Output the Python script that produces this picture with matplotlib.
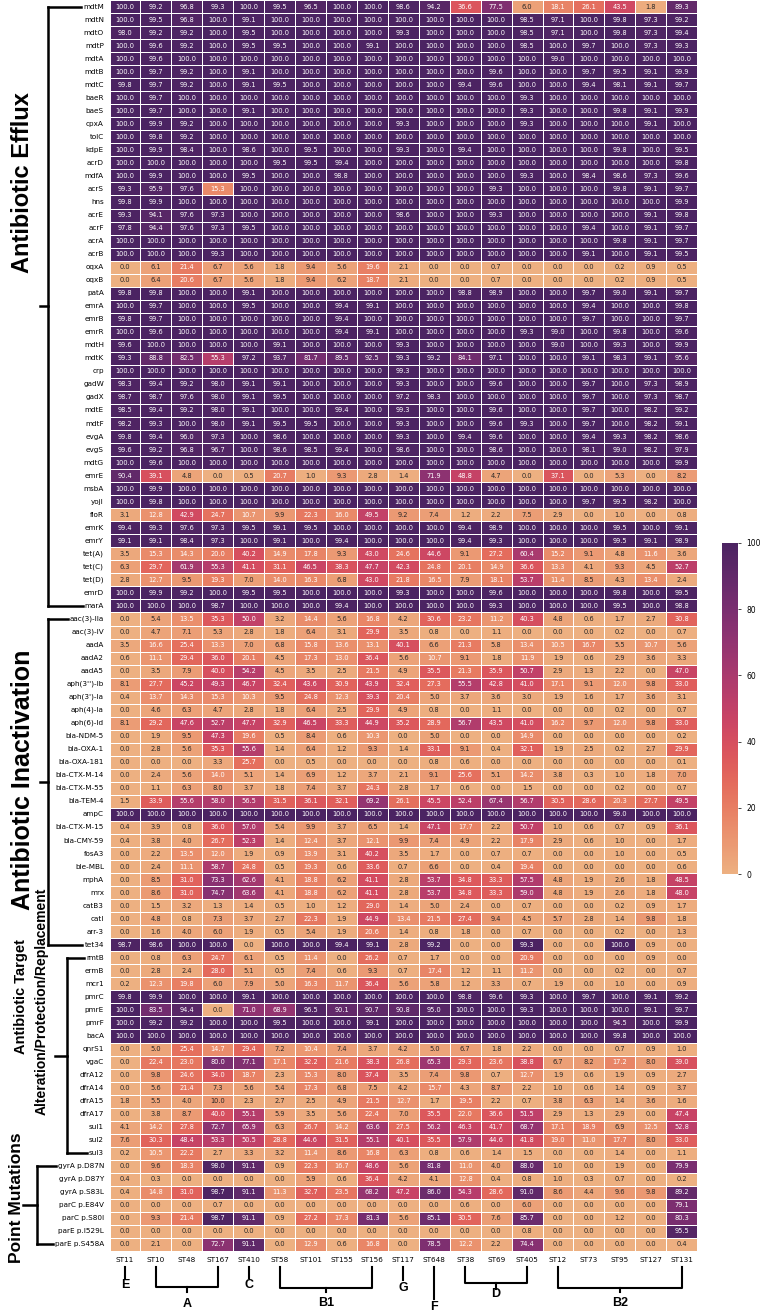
import numpy as np
import matplotlib
matplotlib.use("Agg")
import matplotlib.pyplot as plt
import matplotlib.transforms as mtransforms
from matplotlib import font_manager
import seaborn as sns

# sequence types (columns) and their clade groups
st_types = ["ST11", "ST10", "ST48", "ST167", "ST410", "ST58", "ST101", "ST155", "ST156", "ST117",
            "ST648", "ST38", "ST69", "ST405", "ST12", "ST73", "ST95", "ST127", "ST131"]
clade_names = ["E", "A", "C", "B1", "G", "F", "D", "B2"]
clade_cols = [[0], [1, 3], [4], [5, 8], [9], [10], [11, 13], [14, 18]]

efflux_genes = ["mdtM", "mdtN", "mdtO", "mdtP", "mdtA", "mdtB", "mdtC", "baeR", "baeS", "cpxA",
                "tolC", "kdpE", "acrD", "mdfA", "acrS", "hns", "acrE", "acrF", "acrA", "acrB",
                "oqxA", "oqxB", "patA", "emrA", "emrB", "emrR", "mdtH", "mdtK", "crp", "gadW",
                "gadX", "mdtE", "mdtF", "evgA", "evgS", "mdtG", "emrE", "msbA", "yojI", "floR",
                "emrK", "emrY", "tet(A)", "tet(C)", "tet(D)", "emrD", "marA"]
efflux_values = [
    [100.0, 99.2, 96.8, 99.3, 100.0, 99.5, 96.5, 100.0, 100.0, 98.6, 94.2, 36.6, 77.5, 6.0, 18.1, 26.1, 43.5, 1.8, 89.3],
    [100.0, 99.5, 96.8, 100.0, 99.1, 100.0, 100.0, 100.0, 100.0, 100.0, 100.0, 100.0, 100.0, 98.5, 97.1, 100.0, 99.8, 97.3, 99.2],
    [98.0, 99.2, 99.2, 100.0, 99.5, 100.0, 100.0, 100.0, 100.0, 99.3, 100.0, 100.0, 100.0, 98.5, 97.1, 100.0, 99.8, 97.3, 99.4],
    [100.0, 99.6, 99.2, 100.0, 99.5, 99.5, 100.0, 100.0, 99.1, 100.0, 100.0, 100.0, 100.0, 98.5, 100.0, 99.7, 100.0, 97.3, 99.3],
    [100.0, 99.6, 100.0, 100.0, 100.0, 100.0, 100.0, 100.0, 100.0, 100.0, 100.0, 100.0, 100.0, 100.0, 99.0, 100.0, 100.0, 100.0, 100.0],
    [100.0, 99.7, 99.2, 100.0, 99.1, 100.0, 100.0, 100.0, 100.0, 100.0, 100.0, 100.0, 99.6, 100.0, 100.0, 99.7, 99.5, 99.1, 99.9],
    [99.8, 99.7, 99.2, 100.0, 99.1, 99.5, 100.0, 100.0, 100.0, 100.0, 100.0, 99.4, 99.6, 100.0, 100.0, 99.4, 98.1, 99.1, 99.7],
    [100.0, 99.7, 100.0, 100.0, 100.0, 100.0, 100.0, 100.0, 100.0, 100.0, 100.0, 100.0, 100.0, 99.3, 100.0, 100.0, 100.0, 100.0, 100.0],
    [100.0, 99.7, 100.0, 100.0, 99.1, 100.0, 100.0, 100.0, 100.0, 100.0, 100.0, 100.0, 100.0, 99.3, 100.0, 100.0, 99.8, 99.1, 99.9],
    [100.0, 99.9, 99.2, 100.0, 100.0, 100.0, 100.0, 100.0, 100.0, 99.3, 100.0, 100.0, 100.0, 99.3, 100.0, 100.0, 100.0, 99.1, 100.0],
    [100.0, 99.8, 99.2, 100.0, 100.0, 100.0, 100.0, 100.0, 100.0, 100.0, 100.0, 100.0, 100.0, 100.0, 100.0, 100.0, 100.0, 100.0, 100.0],
    [100.0, 99.9, 98.4, 100.0, 98.6, 100.0, 99.5, 100.0, 100.0, 99.3, 100.0, 99.4, 100.0, 100.0, 100.0, 100.0, 99.8, 100.0, 99.5],
    [100.0, 100.0, 100.0, 100.0, 100.0, 99.5, 99.5, 99.4, 100.0, 100.0, 100.0, 100.0, 100.0, 100.0, 100.0, 100.0, 100.0, 100.0, 99.8],
    [100.0, 99.9, 100.0, 100.0, 99.5, 100.0, 100.0, 98.8, 100.0, 100.0, 100.0, 100.0, 100.0, 99.3, 100.0, 98.4, 98.6, 97.3, 99.6],
    [99.3, 95.9, 97.6, 15.3, 100.0, 100.0, 100.0, 100.0, 100.0, 100.0, 100.0, 100.0, 99.3, 100.0, 100.0, 100.0, 99.8, 99.1, 99.7],
    [99.8, 99.9, 100.0, 100.0, 100.0, 100.0, 100.0, 100.0, 100.0, 100.0, 100.0, 100.0, 100.0, 100.0, 100.0, 100.0, 100.0, 100.0, 99.9],
    [99.3, 94.1, 97.6, 97.3, 100.0, 100.0, 100.0, 100.0, 100.0, 98.6, 100.0, 100.0, 99.3, 100.0, 100.0, 100.0, 100.0, 99.1, 99.8],
    [97.8, 94.4, 97.6, 97.3, 99.5, 100.0, 100.0, 100.0, 100.0, 100.0, 100.0, 100.0, 100.0, 100.0, 100.0, 99.4, 100.0, 99.1, 99.7],
    [100.0, 100.0, 100.0, 100.0, 100.0, 100.0, 100.0, 100.0, 100.0, 100.0, 100.0, 100.0, 100.0, 100.0, 100.0, 100.0, 99.8, 99.1, 99.7],
    [100.0, 100.0, 100.0, 99.3, 100.0, 100.0, 100.0, 100.0, 100.0, 100.0, 100.0, 100.0, 100.0, 100.0, 100.0, 99.1, 100.0, 99.1, 99.5],
    [0.0, 6.1, 21.4, 6.7, 5.6, 1.8, 9.4, 5.6, 19.6, 2.1, 0.0, 0.0, 0.7, 0.0, 0.0, 0.0, 0.2, 0.9, 0.5],
    [0.0, 6.4, 20.6, 6.7, 5.6, 1.8, 9.4, 6.2, 18.7, 2.1, 0.0, 0.0, 0.7, 0.0, 0.0, 0.0, 0.2, 0.9, 0.5],
    [99.8, 99.8, 100.0, 100.0, 99.1, 100.0, 100.0, 100.0, 100.0, 100.0, 100.0, 98.8, 98.9, 100.0, 100.0, 99.7, 99.0, 99.1, 99.7],
    [100.0, 99.7, 100.0, 100.0, 99.5, 100.0, 100.0, 99.4, 99.1, 100.0, 100.0, 100.0, 100.0, 100.0, 100.0, 99.4, 100.0, 100.0, 99.8],
    [99.8, 99.7, 100.0, 100.0, 100.0, 100.0, 100.0, 99.4, 100.0, 100.0, 100.0, 100.0, 100.0, 100.0, 100.0, 99.7, 100.0, 100.0, 99.7],
    [100.0, 99.6, 100.0, 100.0, 100.0, 100.0, 100.0, 99.4, 99.1, 100.0, 100.0, 100.0, 100.0, 99.3, 99.0, 100.0, 99.8, 100.0, 99.6],
    [99.6, 100.0, 100.0, 100.0, 100.0, 99.1, 100.0, 100.0, 100.0, 99.3, 100.0, 100.0, 100.0, 100.0, 99.0, 100.0, 99.3, 100.0, 99.9],
    [99.3, 88.8, 82.5, 55.3, 97.2, 93.7, 81.7, 89.5, 92.5, 99.3, 99.2, 84.1, 97.1, 100.0, 100.0, 99.1, 98.3, 99.1, 95.6],
    [100.0, 100.0, 100.0, 100.0, 100.0, 100.0, 100.0, 100.0, 100.0, 99.3, 100.0, 100.0, 100.0, 100.0, 100.0, 100.0, 100.0, 100.0, 100.0],
    [98.3, 99.4, 99.2, 98.0, 99.1, 99.1, 100.0, 100.0, 100.0, 99.3, 100.0, 100.0, 99.6, 100.0, 100.0, 99.7, 100.0, 97.3, 98.9],
    [98.7, 98.7, 97.6, 98.0, 99.1, 99.5, 100.0, 100.0, 100.0, 97.2, 98.3, 100.0, 100.0, 100.0, 100.0, 99.7, 100.0, 97.3, 98.7],
    [98.5, 99.4, 99.2, 98.0, 99.1, 100.0, 100.0, 99.4, 100.0, 99.3, 100.0, 100.0, 99.6, 100.0, 100.0, 99.7, 100.0, 98.2, 99.2],
    [98.2, 99.3, 100.0, 98.0, 99.1, 99.5, 99.5, 100.0, 100.0, 99.3, 100.0, 100.0, 99.6, 99.3, 100.0, 99.7, 100.0, 98.2, 99.1],
    [99.8, 99.4, 96.0, 97.3, 100.0, 98.6, 100.0, 100.0, 100.0, 99.3, 100.0, 99.4, 99.6, 100.0, 100.0, 99.4, 99.3, 98.2, 98.6],
    [99.6, 99.2, 96.8, 96.7, 100.0, 98.6, 98.5, 99.4, 100.0, 98.6, 100.0, 100.0, 98.6, 100.0, 100.0, 98.1, 99.0, 98.2, 97.9],
    [100.0, 99.6, 100.0, 100.0, 100.0, 100.0, 100.0, 100.0, 100.0, 100.0, 100.0, 100.0, 100.0, 100.0, 100.0, 100.0, 100.0, 100.0, 99.9],
    [90.4, 39.1, 4.8, 0.0, 0.5, 20.7, 1.0, 9.3, 2.8, 1.4, 71.9, 48.8, 4.7, 0.0, 37.1, 0.0, 5.3, 0.0, 8.2],
    [100.0, 99.9, 100.0, 100.0, 100.0, 100.0, 100.0, 100.0, 100.0, 100.0, 100.0, 100.0, 100.0, 100.0, 100.0, 100.0, 100.0, 100.0, 100.0],
    [100.0, 99.8, 100.0, 100.0, 100.0, 100.0, 100.0, 100.0, 100.0, 100.0, 100.0, 100.0, 100.0, 100.0, 100.0, 99.7, 99.5, 98.2, 100.0],
    [3.1, 12.8, 42.9, 24.7, 10.7, 9.9, 22.3, 16.0, 49.5, 9.2, 7.4, 1.2, 2.2, 7.5, 2.9, 0.0, 1.0, 0.0, 0.8],
    [99.4, 99.3, 97.6, 97.3, 99.5, 99.1, 99.5, 100.0, 100.0, 100.0, 100.0, 99.4, 98.9, 100.0, 100.0, 100.0, 99.5, 100.0, 99.1],
    [99.1, 99.1, 98.4, 97.3, 100.0, 99.1, 100.0, 99.4, 100.0, 100.0, 100.0, 99.4, 99.3, 100.0, 100.0, 100.0, 99.5, 99.1, 98.9],
    [3.5, 15.3, 14.3, 20.0, 40.2, 14.9, 17.8, 9.3, 43.0, 24.6, 44.6, 9.1, 27.2, 60.4, 15.2, 9.1, 4.8, 11.6, 3.6],
    [6.3, 29.7, 61.9, 55.3, 41.1, 31.1, 46.5, 38.3, 47.7, 42.3, 24.8, 20.1, 14.9, 36.6, 13.3, 4.1, 9.3, 4.5, 52.7],
    [2.8, 12.7, 9.5, 19.3, 7.0, 14.0, 16.3, 6.8, 43.0, 21.8, 16.5, 7.9, 18.1, 53.7, 11.4, 8.5, 4.3, 13.4, 2.4],
    [100.0, 99.9, 99.2, 100.0, 99.5, 99.5, 100.0, 100.0, 100.0, 99.3, 100.0, 100.0, 99.6, 100.0, 100.0, 100.0, 99.8, 100.0, 99.5],
    [100.0, 100.0, 100.0, 98.7, 100.0, 100.0, 100.0, 99.4, 100.0, 100.0, 100.0, 100.0, 99.3, 100.0, 100.0, 100.0, 99.5, 100.0, 98.8],
]

inactivation_genes = ["aac(3)-IIa", "aac(3)-IV", "aadA", "aadA2", "aadA5", "aph(3'')-Ib", "aph(3')-Ia",
                      "aph(4)-Ia", "aph(6)-Id", "bla-NDM-5", "bla-OXA-1", "bla-OXA-181", "bla-CTX-M-14",
                      "bla-CTX-M-55", "bla-TEM-4", "ampC", "bla-CTX-M-15", "bla-CMY-59", "fosA3", "ble-MBL",
                      "mphA", "mrx", "catB3", "catI", "arr-3", "tet34"]
inactivation_values = [
    [0.0, 5.4, 13.5, 35.3, 50.0, 3.2, 14.4, 5.6, 16.8, 4.2, 30.6, 23.2, 11.2, 40.3, 4.8, 0.6, 1.7, 2.7, 30.8],
    [0.0, 4.7, 7.1, 5.3, 2.8, 1.8, 6.4, 3.1, 29.9, 3.5, 0.8, 0.0, 1.1, 0.0, 0.0, 0.0, 0.2, 0.0, 0.7],
    [3.5, 16.6, 25.4, 13.3, 7.0, 6.8, 15.8, 13.6, 13.1, 40.1, 6.6, 21.3, 5.8, 13.4, 10.5, 16.7, 5.5, 10.7, 5.6],
    [0.6, 11.1, 29.4, 36.0, 20.1, 4.5, 17.3, 13.0, 36.4, 5.6, 10.7, 9.1, 1.8, 11.9, 1.9, 0.6, 2.9, 3.6, 3.3],
    [0.0, 3.5, 7.9, 40.0, 54.2, 4.5, 3.5, 2.5, 21.5, 4.9, 35.5, 21.3, 35.9, 50.7, 2.9, 1.3, 2.2, 0.0, 47.0],
    [8.1, 27.7, 45.2, 49.3, 46.7, 32.4, 43.6, 30.9, 43.9, 32.4, 27.3, 55.5, 42.8, 41.0, 17.1, 9.1, 12.0, 9.8, 33.0],
    [0.4, 13.7, 14.3, 15.3, 10.3, 9.5, 24.8, 12.3, 39.3, 20.4, 5.0, 3.7, 3.6, 3.0, 1.9, 1.6, 1.7, 3.6, 3.1],
    [0.0, 4.6, 6.3, 4.7, 2.8, 1.8, 6.4, 2.5, 29.9, 4.9, 0.8, 0.0, 1.1, 0.0, 0.0, 0.0, 0.2, 0.0, 0.7],
    [8.1, 29.2, 47.6, 52.7, 47.7, 32.9, 46.5, 33.3, 44.9, 35.2, 28.9, 56.7, 43.5, 41.0, 16.2, 9.7, 12.0, 9.8, 33.0],
    [0.0, 1.9, 9.5, 47.3, 19.6, 0.5, 8.4, 0.6, 10.3, 0.0, 5.0, 0.0, 0.0, 14.9, 0.0, 0.0, 0.0, 0.0, 0.2],
    [0.0, 2.8, 5.6, 35.3, 55.6, 1.4, 6.4, 1.2, 9.3, 1.4, 33.1, 9.1, 0.4, 32.1, 1.9, 2.5, 0.2, 2.7, 29.9],
    [0.0, 0.0, 0.0, 3.3, 25.7, 0.0, 0.5, 0.0, 0.0, 0.0, 0.8, 0.6, 0.0, 0.0, 0.0, 0.0, 0.0, 0.0, 0.1],
    [0.0, 2.4, 5.6, 14.0, 5.1, 1.4, 6.9, 1.2, 3.7, 2.1, 9.1, 25.6, 5.1, 14.2, 3.8, 0.3, 1.0, 1.8, 7.0],
    [0.0, 1.1, 6.3, 8.0, 3.7, 1.8, 7.4, 3.7, 24.3, 2.8, 1.7, 0.6, 0.0, 1.5, 0.0, 0.0, 0.2, 0.0, 0.7],
    [1.5, 33.9, 55.6, 58.0, 56.5, 31.5, 36.1, 32.1, 69.2, 26.1, 45.5, 52.4, 67.4, 56.7, 30.5, 28.6, 20.3, 27.7, 49.5],
    [100.0, 100.0, 100.0, 100.0, 100.0, 100.0, 100.0, 100.0, 100.0, 100.0, 100.0, 100.0, 100.0, 100.0, 100.0, 100.0, 99.0, 100.0, 100.0],
    [0.4, 3.9, 0.8, 36.0, 57.0, 5.4, 9.9, 3.7, 6.5, 1.4, 47.1, 17.7, 2.2, 50.7, 1.0, 0.6, 0.7, 0.9, 36.1],
    [0.4, 3.8, 4.0, 26.7, 52.3, 1.4, 12.4, 3.7, 12.1, 9.9, 7.4, 4.9, 2.2, 17.9, 2.9, 0.6, 1.0, 0.0, 1.7],
    [0.0, 2.2, 13.5, 12.0, 1.9, 0.9, 13.9, 3.1, 40.2, 3.5, 1.7, 0.0, 0.7, 0.7, 0.0, 0.0, 1.0, 0.0, 0.5],
    [0.0, 2.4, 11.1, 58.7, 24.8, 0.5, 19.3, 0.6, 33.6, 0.7, 6.6, 0.0, 0.4, 19.4, 0.0, 0.0, 0.0, 0.0, 0.6],
    [0.0, 8.5, 31.0, 73.3, 62.6, 4.1, 18.8, 6.2, 41.1, 2.8, 53.7, 34.8, 33.3, 57.5, 4.8, 1.9, 2.6, 1.8, 48.5],
    [0.0, 8.6, 31.0, 74.7, 63.6, 4.1, 18.8, 6.2, 41.1, 2.8, 53.7, 34.8, 33.3, 59.0, 4.8, 1.9, 2.6, 1.8, 48.0],
    [0.0, 1.5, 3.2, 1.3, 1.4, 0.5, 1.0, 1.2, 29.0, 1.4, 5.0, 2.4, 0.0, 0.7, 0.0, 0.0, 0.2, 0.9, 1.7],
    [0.0, 4.8, 0.8, 7.3, 3.7, 2.7, 22.3, 1.9, 44.9, 13.4, 21.5, 27.4, 9.4, 4.5, 5.7, 2.8, 1.4, 9.8, 1.8],
    [0.0, 1.6, 4.0, 6.0, 1.9, 0.5, 5.4, 1.9, 20.6, 1.4, 0.8, 1.8, 0.0, 0.7, 0.0, 0.0, 0.2, 0.0, 1.3],
    [98.7, 98.6, 100.0, 100.0, 0.0, 100.0, 100.0, 99.4, 99.1, 2.8, 99.2, 0.0, 0.0, 99.3, 0.0, 0.0, 100.0, 0.9, 0.0],
]

target_genes = ["rmtB", "ermB", "mcr1", "pmrC", "pmrE", "pmrF", "bacA", "qnrS1", "vgaC", "dfrA12",
                "dfrA14", "dfrA15", "dfrA17", "sul1", "sul2", "sul3"]
target_values = [
    [0.0, 0.8, 6.3, 24.7, 6.1, 0.5, 11.4, 0.0, 26.2, 0.7, 1.7, 0.0, 0.0, 20.9, 0.0, 0.0, 0.0, 0.9, 0.0],
    [0.0, 2.8, 2.4, 28.0, 5.1, 0.5, 7.4, 0.6, 9.3, 0.7, 17.4, 1.2, 1.1, 11.2, 0.0, 0.0, 0.2, 0.0, 0.7],
    [0.2, 12.3, 19.8, 6.0, 7.9, 5.0, 16.3, 11.7, 36.4, 5.6, 5.8, 1.2, 3.3, 0.7, 1.9, 0.0, 1.0, 0.0, 0.9],
    [99.8, 99.9, 100.0, 100.0, 99.1, 100.0, 100.0, 100.0, 100.0, 100.0, 100.0, 98.8, 99.6, 99.3, 100.0, 99.7, 100.0, 99.1, 99.2],
    [100.0, 83.5, 94.4, 0.0, 71.0, 68.9, 96.5, 90.1, 90.7, 90.8, 95.0, 100.0, 100.0, 99.3, 100.0, 100.0, 100.0, 99.1, 99.7],
    [100.0, 99.2, 99.2, 100.0, 100.0, 99.5, 100.0, 100.0, 99.1, 100.0, 100.0, 100.0, 100.0, 100.0, 100.0, 100.0, 94.5, 100.0, 99.9],
    [100.0, 100.0, 100.0, 100.0, 100.0, 100.0, 100.0, 100.0, 100.0, 100.0, 100.0, 100.0, 100.0, 100.0, 100.0, 100.0, 99.8, 100.0, 100.0],
    [0.0, 5.0, 25.4, 14.7, 29.4, 7.2, 10.4, 7.4, 3.7, 4.2, 5.0, 6.7, 1.8, 2.2, 0.0, 0.0, 0.7, 0.9, 1.0],
    [0.0, 22.4, 23.0, 80.0, 77.1, 17.1, 32.2, 21.6, 38.3, 26.8, 65.3, 29.3, 23.6, 38.8, 6.7, 8.2, 17.2, 8.0, 39.0],
    [0.0, 9.8, 24.6, 34.0, 18.7, 2.3, 15.3, 8.0, 37.4, 3.5, 7.4, 9.8, 0.7, 12.7, 1.9, 0.6, 1.9, 0.9, 2.7],
    [0.0, 5.6, 21.4, 7.3, 5.6, 5.4, 17.3, 6.8, 7.5, 4.2, 15.7, 4.3, 8.7, 2.2, 1.0, 0.6, 1.4, 0.9, 3.7],
    [1.8, 5.5, 4.0, 10.0, 2.3, 2.7, 2.5, 4.9, 21.5, 12.7, 1.7, 19.5, 2.2, 0.7, 3.8, 6.3, 1.4, 3.6, 1.6],
    [0.0, 3.8, 8.7, 40.0, 55.1, 5.9, 3.5, 5.6, 22.4, 7.0, 35.5, 22.0, 36.6, 51.5, 2.9, 1.3, 2.9, 0.0, 47.4],
    [4.1, 14.2, 27.8, 72.7, 65.9, 6.3, 26.7, 14.2, 63.6, 27.5, 56.2, 46.3, 41.7, 68.7, 17.1, 18.9, 6.9, 12.5, 52.8],
    [7.6, 30.3, 48.4, 53.3, 50.5, 28.8, 44.6, 31.5, 55.1, 40.1, 35.5, 57.9, 44.6, 41.8, 19.0, 11.0, 17.7, 8.0, 33.0],
    [0.2, 10.5, 22.2, 2.7, 3.3, 3.2, 11.4, 8.6, 16.8, 6.3, 0.8, 0.6, 1.4, 1.5, 0.0, 0.0, 1.4, 0.0, 1.1],
]

mutation_genes = ["gyrA p.D87N", "gyrA p.D87Y", "gyrA p.S83L", "parC p.E84V", "parC p.S80I",
                  "parE p.I529L", "parE p.S458A"]
mutation_values = [
    [0.0, 9.6, 18.3, 98.0, 91.1, 0.9, 22.3, 16.7, 48.6, 5.6, 81.8, 11.0, 4.0, 88.0, 1.0, 0.0, 1.9, 0.0, 79.9],
    [0.4, 0.3, 0.0, 0.0, 0.0, 0.0, 5.9, 0.6, 36.4, 4.2, 4.1, 12.8, 0.4, 0.8, 1.0, 0.3, 0.7, 0.0, 0.2],
    [0.4, 14.8, 31.0, 98.7, 91.1, 11.3, 32.7, 23.5, 68.2, 47.2, 86.0, 54.3, 28.6, 91.0, 8.6, 4.4, 9.6, 9.8, 89.2],
    [0.0, 0.0, 0.0, 0.7, 0.0, 0.0, 0.0, 0.0, 0.0, 0.0, 0.0, 0.6, 0.0, 6.0, 0.0, 0.0, 0.0, 0.0, 79.1],
    [0.0, 9.3, 21.4, 98.7, 91.1, 0.9, 27.2, 17.3, 81.3, 5.6, 85.1, 30.5, 7.6, 85.7, 0.0, 0.0, 1.2, 0.0, 80.3],
    [0.0, 0.0, 0.0, 0.0, 0.0, 0.0, 0.0, 0.0, 0.0, 0.0, 0.0, 0.0, 0.0, 0.8, 0.0, 0.0, 0.0, 0.0, 95.5],
    [0.0, 2.1, 0.0, 72.7, 91.1, 0.0, 12.9, 0.6, 16.8, 0.0, 78.5, 12.2, 2.2, 74.4, 0.0, 0.0, 0.0, 0.0, 0.4],
]

genes = efflux_genes + inactivation_genes + target_genes + mutation_genes
values = np.array(efflux_values + inactivation_values + target_values + mutation_values)

# the group labels look like a narrow bold face; use it when it is there
installed = {f.name for f in font_manager.fontManager.ttflist}
if "Liberation Sans Narrow" in installed:
    label_font = ["Liberation Sans Narrow", "DejaVu Sans"]
    sizes = {"efflux": 20, "inact": 20, "target1": 13, "target2": 11.5, "point": 16, "clade": 10}
else:
    label_font = ["Liberation Sans", "DejaVu Sans"]
    sizes = {"efflux": 17, "inact": 18, "target1": 10.5, "target2": 10, "point": 12.5, "clade": 9}

W, H = 773, 1312
fig = plt.figure(figsize=(W / 100, H / 100), dpi=100)
ax = fig.add_axes([109.5 / W, 61 / H, 587.7 / W, 1251 / H])
cax = fig.add_axes([722 / W, (H - 874) / H, 16 / W, 331 / H])

sns.heatmap(values, ax=ax, cbar_ax=cax, cmap="flare", vmin=0, vmax=100,
            annot=True, fmt=".1f", annot_kws={"size": 4.8},
            linewidths=0.5, linecolor="white",
            xticklabels=st_types, yticklabels=genes)
ax.set_yticklabels(genes, rotation=0, fontsize=5.2)
ax.set_xticklabels(st_types, rotation=0, fontsize=5.2)
ax.tick_params(length=0, pad=4)
cax.tick_params(labelsize=5.5, length=2.5, width=0.5)
cax.set_yticks([0, 20, 40, 60, 80, 100])

# overlay in pixel units for the group brackets / labels
pix = fig.add_axes([0, 0, 1, 1], facecolor="none")
pix.set_xlim(0, W)
pix.set_ylim(H, 0)
pix.axis("off")

fig.canvas.draw()
label_x0 = [t.get_window_extent().x0 for t in ax.get_yticklabels()]

# x in pixels, y in row units
row_tr = mtransforms.blended_transform_factory(pix.transData, ax.transData)
lw_b = 1.8
n1 = len(efflux_genes)
n2 = n1 + len(inactivation_genes)
n3 = n2 + len(target_genes)
groups = [
    (0, n1 - 1, 48, 40),
    (n1, n2 - 1, 48, 40),
    (n2, n3 - 1, 67, 55),
    (n3, len(genes) - 1, 37, 23),
]
for first, last, xv, xt in groups:
    y0, y1 = first + 0.5, last + 0.5
    ax.plot([xv, xv], [y0, y1], color="black", lw=lw_b, transform=row_tr, clip_on=False,
            solid_capstyle="projecting")
    for r in (first, last):
        ax.plot([xv, label_x0[r] - 2], [r + 0.5, r + 0.5], color="black", lw=lw_b,
                transform=row_tr, clip_on=False)
    ym = (y0 + y1) / 2
    ax.plot([xt, xv], [ym, ym], color="black", lw=lw_b, transform=row_tr, clip_on=False)

pix.text(23, 183, "Antibiotic Efflux", rotation=90, ha="center", va="center",
         fontsize=sizes["efflux"], fontweight="bold", family=label_font)
pix.text(23, 780, "Antibiotic Inactivation", rotation=90, ha="center", va="center",
         fontsize=sizes["inact"], fontweight="bold", family=label_font)
pix.text(21, 997, "Antibiotic Target", rotation=90, ha="center", va="center",
         fontsize=sizes["target1"], fontweight="bold", family=label_font)
pix.text(42, 1001, "Alteration/Protection/Replacement", rotation=90, ha="center", va="center",
         fontsize=sizes["target2"], fontweight="bold", family=label_font)
pix.text(17, 1198, "Point Mutations", rotation=90, ha="center", va="center",
         fontsize=sizes["point"], fontweight="bold", family=label_font)

# clade brackets under the columns: x in column units, y in pixels
col_tr = mtransforms.blended_transform_factory(ax.transData, pix.transData)
lw_c = 1.5
single_depth = {"E": (1278, 1285), "C": (1278, 1285), "G": (1280, 1288), "F": (1299, 1307)}
range_depth = {"A": (1287, 1292, 1304), "B1": (1288, 1292, 1303),
               "D": (1283, 1289, 1294), "B2": (1288, 1292, 1303)}
top_y = 1267
for name, cols in zip(clade_names, clade_cols):
    if len(cols) == 1:
        xc = cols[0] + 0.5
        yend, ytxt = single_depth[name]
        ax.plot([xc, xc], [top_y, yend], color="black", lw=lw_c, transform=col_tr, clip_on=False)
    else:
        xa, xb = cols[0] + 0.5, cols[1] + 0.5
        yh, ytick, ytxt = range_depth[name]
        xc = (xa + xb) / 2
        ax.plot([xa, xa, xb, xb], [top_y, yh, yh, top_y], color="black", lw=lw_c,
                transform=col_tr, clip_on=False)
        ax.plot([xc, xc], [yh, ytick], color="black", lw=lw_c, transform=col_tr, clip_on=False)
    ax.text(xc, ytxt, name, transform=col_tr, ha="center", va="center", fontsize=sizes["clade"],
            fontweight="bold", family=label_font)

fig.savefig("out.png", dpi=100)
